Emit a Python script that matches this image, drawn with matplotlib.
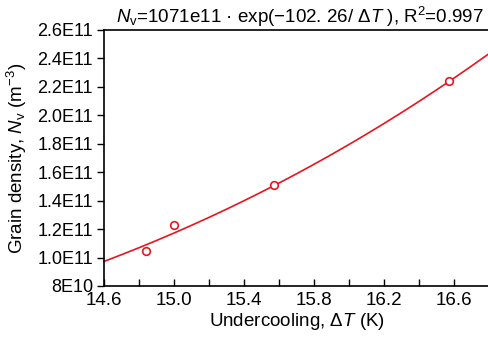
import matplotlib
matplotlib.use("Agg")
import matplotlib.pyplot as plt
import numpy as np
from matplotlib.ticker import FixedLocator

plt.rcParams["font.family"] = ["Liberation Sans", "DejaVu Sans"]
plt.rcParams["mathtext.fontset"] = "custom"
plt.rcParams["mathtext.rm"] = "Liberation Sans"
plt.rcParams["mathtext.it"] = "Liberation Sans:italic"

# measured undercooling vs grain density
undercooling = [14.84, 15.00, 15.57, 16.57]
grain_density = [1.045e11, 1.23e11, 1.51e11, 2.24e11]

# fit: Nv = A * exp(-B / dT)
fit_a = 1071e11
fit_b = 102.26

x_major = [14.6, 15.0, 15.4, 15.8, 16.2, 16.6]
x_minor = [14.8, 15.2, 15.6, 16.0, 16.4, 16.8]
y_ticks = [8e10, 1.0e11, 1.2e11, 1.4e11, 1.6e11, 1.8e11, 2.0e11, 2.2e11, 2.4e11, 2.6e11]
y_labels = ["8E10", "1.0E11", "1.2E11", "1.4E11", "1.6E11", "1.8E11",
            "2.0E11", "2.2E11", "2.4E11", "2.6E11"]

RED = "#e8151f"

fig = plt.figure(figsize=(4.89, 3.40), dpi=100)
ax = fig.add_axes([104 / 489, 54 / 340, 385 / 489, 256 / 340])

dt = np.linspace(14.6, 16.8, 200)
ax.plot(dt, fit_a * np.exp(-fit_b / dt), color=RED, lw=1.2, zorder=2,
        clip_on=False)
ax.plot(undercooling, grain_density, "o", ms=5.5, mfc="white", mec=RED,
        mew=1.2, zorder=3)

ax.set_xlim(14.6, 16.8)
ax.set_ylim(8e10, 2.6e11)
ax.xaxis.set_major_locator(FixedLocator(x_major))
ax.xaxis.set_minor_locator(FixedLocator(x_minor))
ax.set_xticklabels([f"{v:.1f}" for v in x_major])
ax.yaxis.set_major_locator(FixedLocator(y_ticks))
ax.set_yticklabels(y_labels)

ax.tick_params(axis="x", which="both", direction="in", length=5, width=1,
               labelsize=13.5, pad=4)
ax.tick_params(axis="y", direction="out", length=5, width=1, labelsize=13, pad=3)
for s in ax.spines.values():
    s.set_linewidth(1.2)
ax.spines["right"].set_visible(False)

ax.set_xlabel(r"Undercooling, $\Delta T$ (K)", fontsize=13.5, labelpad=2)
ax.set_ylabel(r"Grain density, $N_\mathrm{v}$ (m$^{-3}$)", fontsize=13.5, labelpad=6)
ax.set_title(r"$N_\mathrm{v}$=1071e11 · exp(−102. 26/ Δ$T$ ), R$^2$=0.997",
             fontsize=13.5, pad=5, x=0.51)

fig.savefig("out.png", dpi=100)
